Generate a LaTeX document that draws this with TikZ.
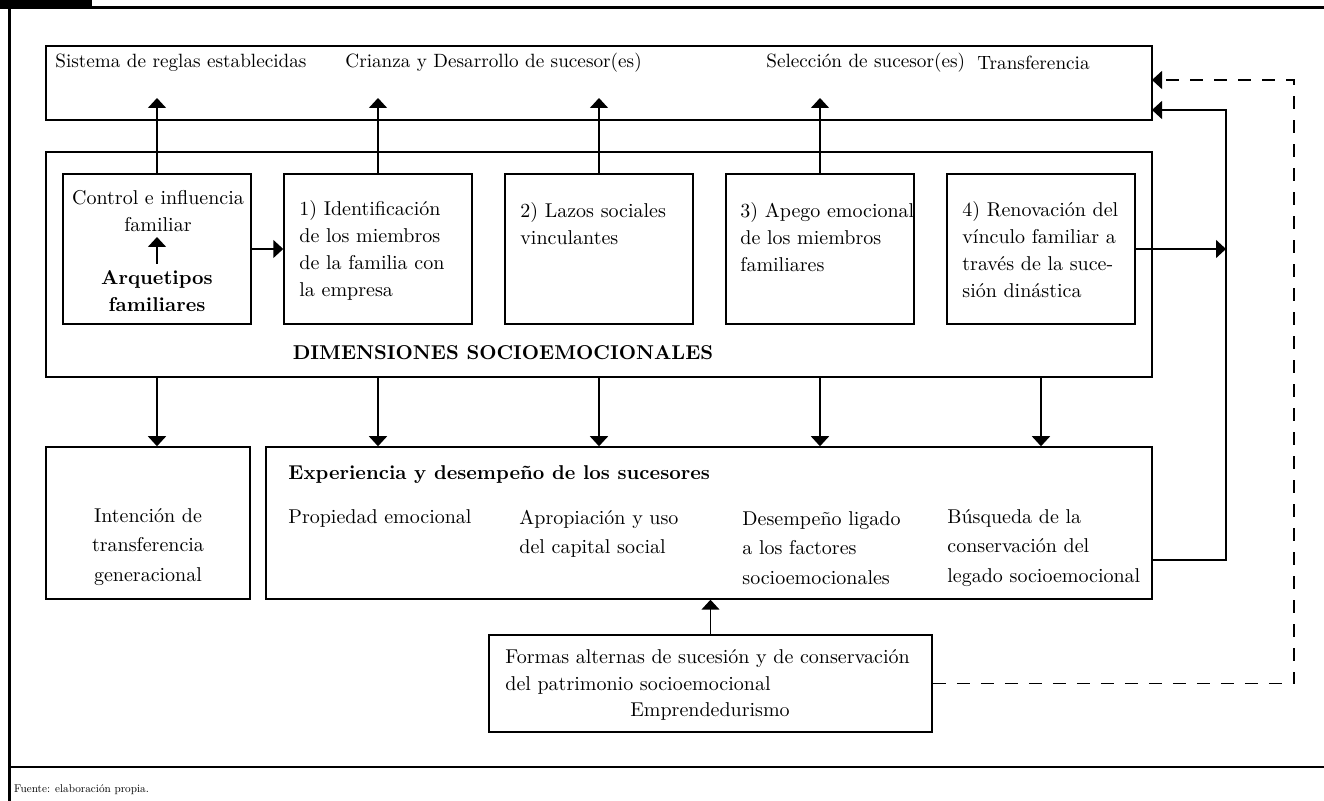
\documentclass[tikz,border=0pt]{standalone}
\usetikzlibrary{arrows.meta,fit,calc}
\begin{document}
\begin{tikzpicture}[x=0.5pt,y=-0.5pt,
  box/.style={draw, line width=0.75pt, inner sep=0pt},
  txt/.style={inner sep=0pt, font=\fontsize{10}{13.5}\selectfont},
  toptxt/.style={inner sep=0pt, anchor=west, font=\fontsize{9.6}{12}\selectfont},
  txte/.style={inner sep=0pt, font=\fontsize{10}{14.6}\selectfont},
  arr/.style={-{Triangle[length=5pt,width=9pt]}, line width=0.75pt},
  dsh/.style={dash pattern=on 6.5pt off 5.5pt}]
\useasboundingbox (0,0) rectangle (1324,801);
% frame
\fill (0,0) rectangle (92,7.5);
\draw[line width=1.3pt] (0,7.5) -- (1324,7.5);
\draw[line width=1.4pt] (9.5,7.5) -- (9.5,801);
\draw[line width=1pt] (9.5,767.5) -- (1324,767.5);
\node[anchor=west, inner sep=0pt, scale=0.56, font=\fontsize{10}{12}\selectfont] (src) at (14,790) {Fuente: elaboración propia.};
% boxes
\node[box, fit={(46,46) (1152,120)}] (T) {};
\node[box, fit={(46,152) (1152,377)}] (D) {};
\node[box, fit={(63,174) (251,324)}] (A) {};
\node[box, fit={(284,174) (472,324)}] (B1) {};
\node[box, fit={(505,174) (693,324)}] (B2) {};
\node[box, fit={(726,174) (914,324)}] (B3) {};
\node[box, fit={(947,174) (1135,324)}] (B4) {};
\node[box, fit={(46,447) (250,599)}] (I) {};
\node[box, fit={(266,447) (1152,599)}] (E) {};
\node[box, fit={(489,635) (932,732)}] (F) {};
% top texts
\node[toptxt] (t1) at (55,63) {Sistema de reglas establecidas};
\node[toptxt] (t2) at (345,63) {Crianza y Desarrollo de sucesor(es)};
\node[toptxt] (t3) at (766,63) {Selección de sucesor(es)};
\node[toptxt] (t4) at (977,63) {Transferencia};
% dimension texts
\node[txt, align=center] (ctl) at (158,211) {Control e influencia\\familiar};
\node[txt, align=center, font=\fontsize{10}{13.5}\selectfont\bfseries] (arq) at (157,291) {Arquetipos\\familiares};
\node[txt, anchor=west, align=left] (d1) at (299,250) {1) Identificación\\de los miembros\\de la familia con\\la empresa};
\node[txt, anchor=west, align=left] (d2) at (520,223.5) {2) Lazos sociales\\vinculantes};
\node[txt, anchor=west, align=left] (d3) at (740,237) {3) Apego emocional\\de los miembros\\familiares};
\node[txt, anchor=west, align=left] (d4) at (962,250) {4) Renovación del\\vínculo familiar a\\través de la suce-\\sión dinástica};
\node[txt, font=\fontsize{10}{13.5}\selectfont\bfseries] (dim) at (503,353) {DIMENSIONES SOCIOEMOCIONALES};
% lower texts
\node[txte, align=center] (it) at (148,547) {Intención de\\transferencia\\generacional};
\node[txte, anchor=west, font=\fontsize{10}{14.6}\selectfont\bfseries] (et) at (288,475) {Experiencia y desempeño de los sucesores};
\node[txte, anchor=west] (e1) at (288,519) {Propiedad emocional};
\node[txte, anchor=west, align=left] (e2) at (519,533.5) {Apropiación y uso\\del capital social};
\node[txte, anchor=west, align=left] (e3) at (742,548) {Desempeño ligado\\a los factores\\socioemocionales};
\node[txte, anchor=west, align=left] (e4) at (947,548) {Búsqueda de la\\conservación del\\legado socioemocional};
\node[txt, anchor=west, align=left] (f1) at (505,671.5) {Formas alternas de sucesión y de conservación\\del patrimonio socioemocional};
\node[txt] (f2) at (710,712) {Emprendedurismo};
% coordinates
\coordinate (tT) at (0,98);
\coordinate (vl) at (1226,0);
\coordinate (dl) at (1294,0);
\coordinate (tin) at (1152,110);
\coordinate (tdash) at (1152,80);
\coordinate (eout) at (1152,560);
\coordinate (a1) at (157,264);
\coordinate (a2) at (157,237);
% connectors
\foreach \n in {A,B1,B2,B3} \draw[arr] (\n.north) -- (\n.north |- tT);
\draw[arr] (A.south |- D.south) -- (A.south |- I.north);
\foreach \n in {B1,B2,B3,B4} \draw[arr] (\n.south |- D.south) -- (\n.south |- E.north);
\draw[arr] (A.east) -- (B1.west);
\draw[arr] (a1) -- (a2);
\draw[arr] (B4.east) -- (B4.east -| vl);
\draw[arr] (eout) -- (eout -| vl) -- (vl |- tin) -- (tin);
\draw[arr, dsh] (F.east) -- (F.east -| dl) -- (dl |- tdash) -- (tdash);
\draw[arr] (F.north) -- (F.north |- E.south);
\end{tikzpicture}
\end{document}
